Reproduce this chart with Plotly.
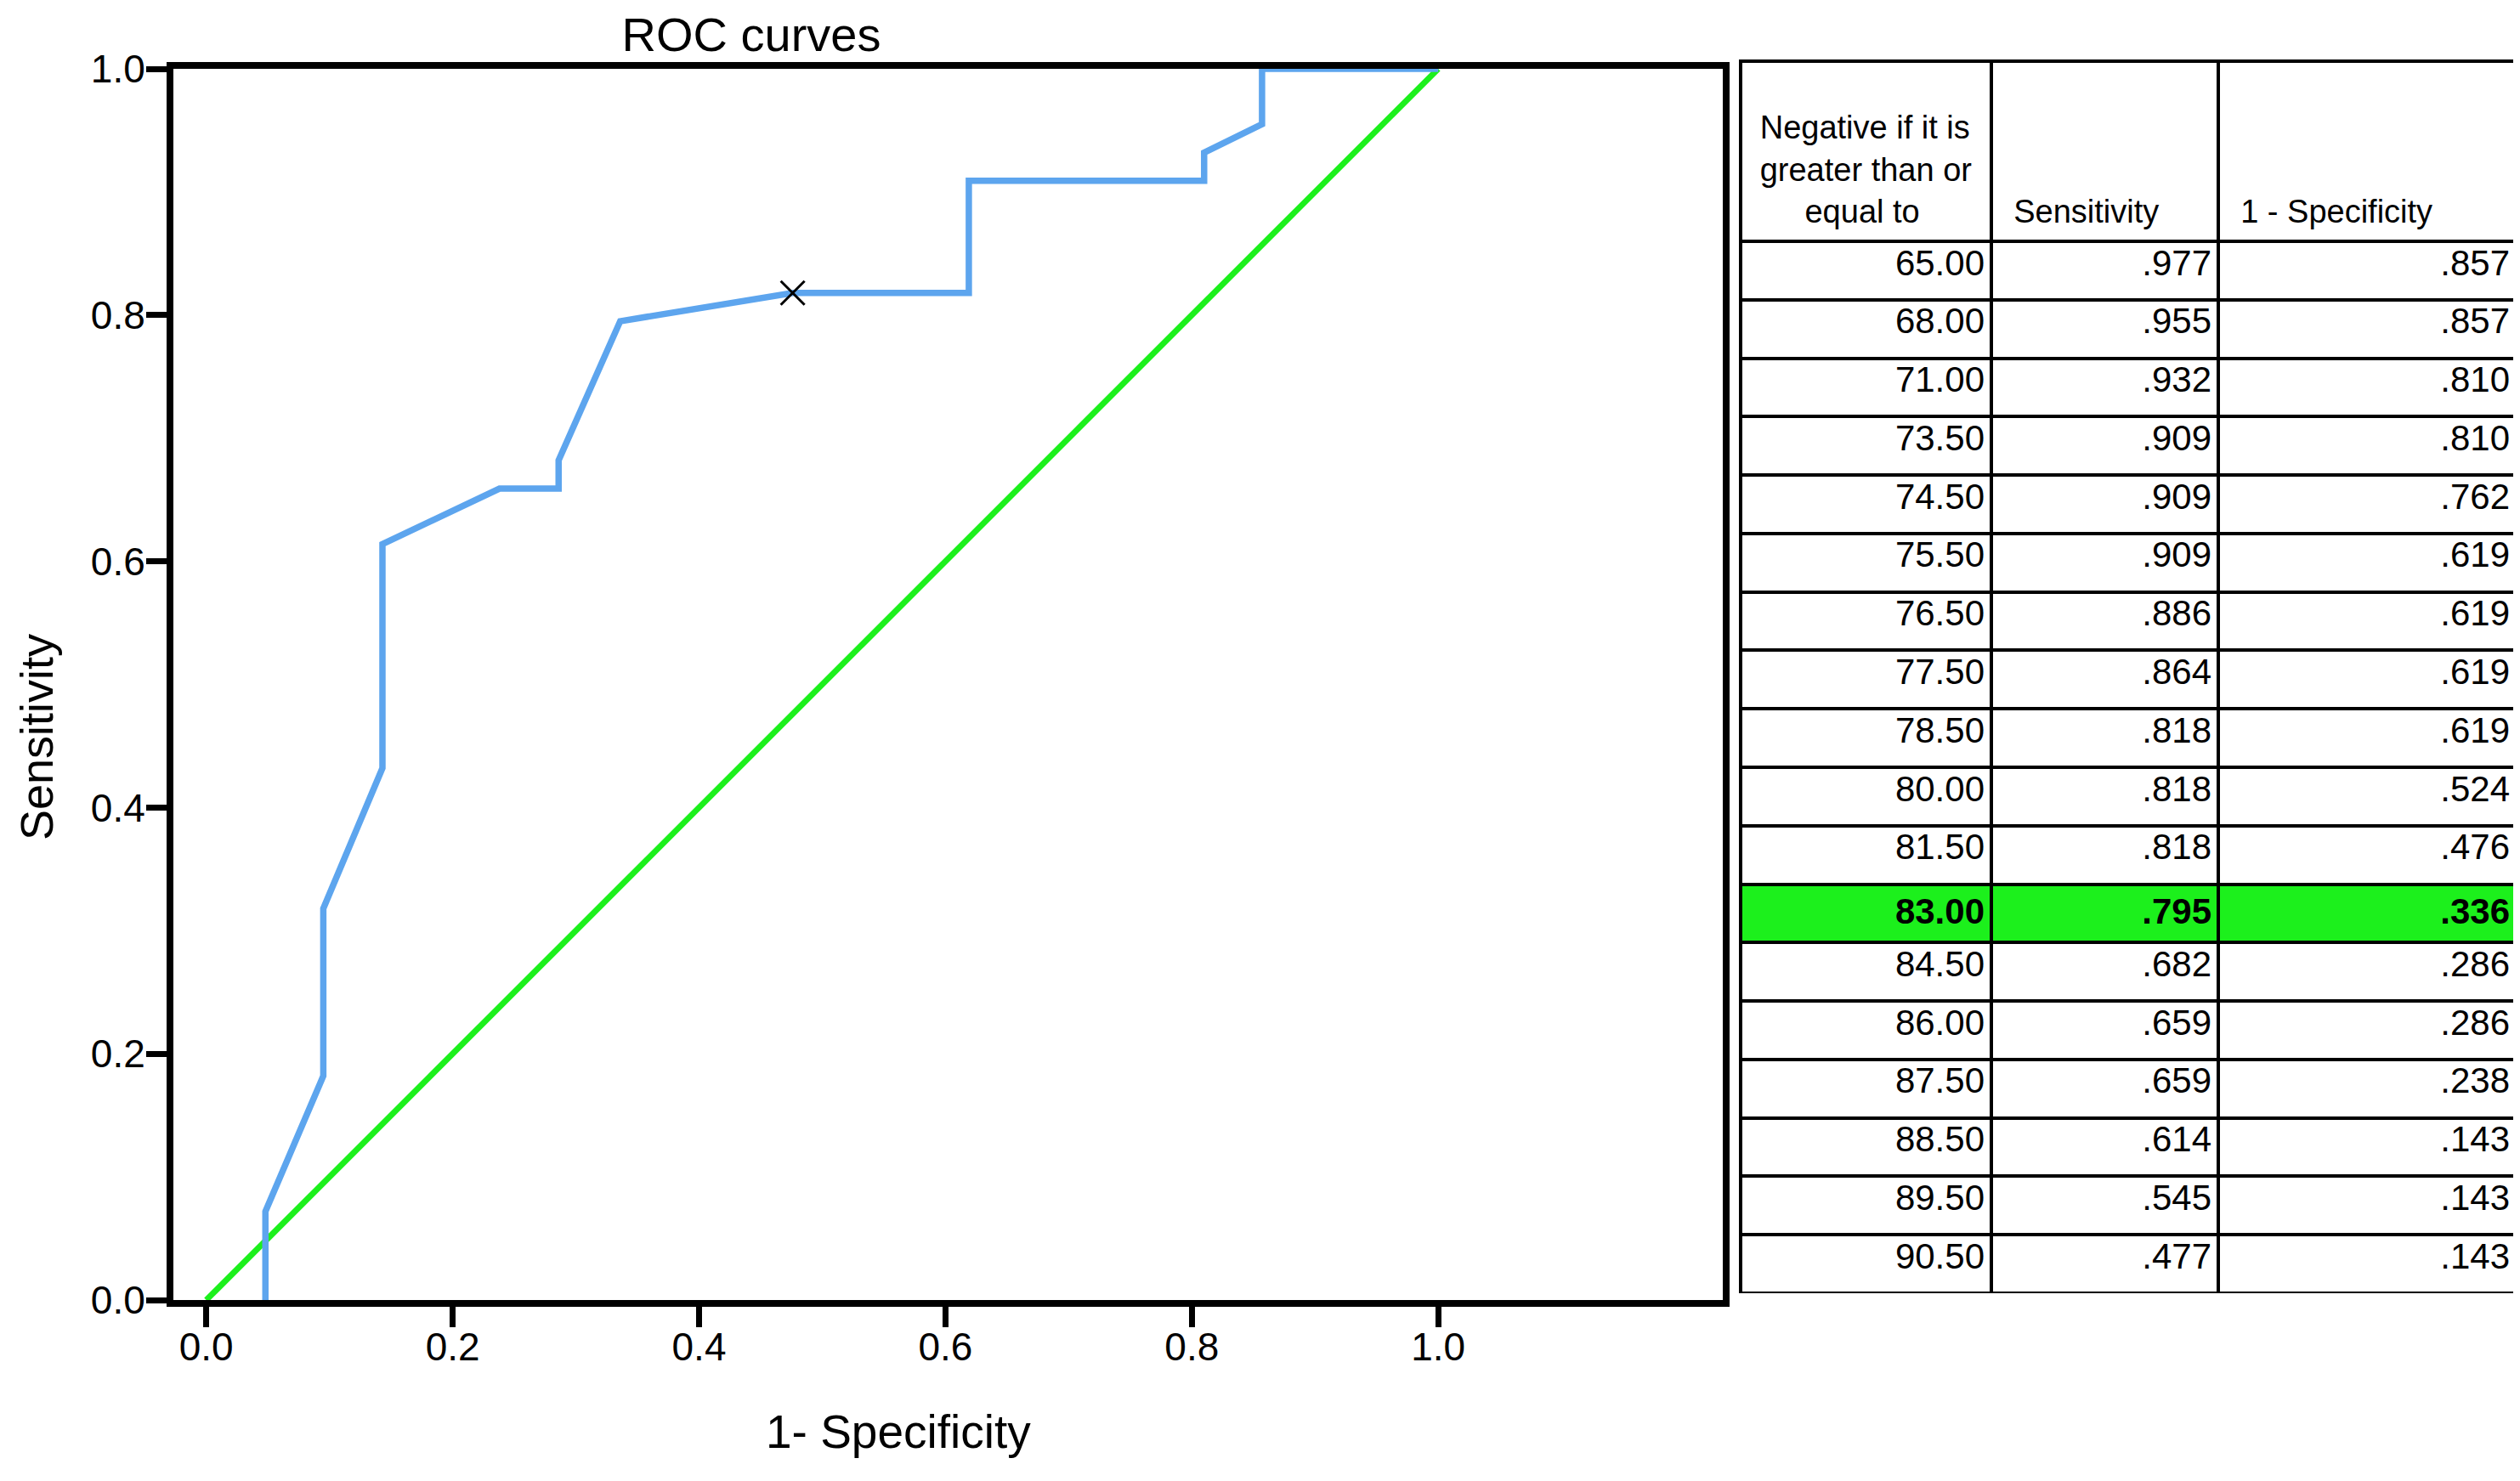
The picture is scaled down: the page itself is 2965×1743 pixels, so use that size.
import plotly.graph_objects as go

# ---------------- data ----------------
thresholds = [65.00, 68.00, 71.00, 73.50, 74.50, 75.50, 76.50, 77.50, 78.50,
              80.00, 81.50, 83.00, 84.50, 86.00, 87.50, 88.50, 89.50, 90.50]
table_sens = [.977, .955, .932, .909, .909, .909, .886, .864, .818,
              .818, .818, .795, .682, .659, .659, .614, .545, .477]
table_fpr = [.857, .857, .810, .810, .762, .619, .619, .619, .619,
             .524, .476, .336, .286, .286, .238, .143, .143, .143]
highlight_threshold = 83.00

# ROC curve vertices
roc_fpr = [0.048, 0.048, 0.095, 0.095, 0.143, 0.143, 0.238, 0.286, 0.286,
           0.336, 0.476, 0.619, 0.619, 0.810, 0.810, 0.857, 0.857, 1.0]
roc_sens = [0.0, 0.072, 0.182, 0.318, 0.432, 0.614, 0.659, 0.659, 0.682,
            0.795, 0.818, 0.818, 0.909, 0.909, 0.932, 0.955, 1.0, 1.0]

ref_x = [0.0, 1.0]
ref_y = [0.0, 1.0]

marker_x = [0.476]
marker_y = [0.818]

x_ticks = [0.0, 0.2, 0.4, 0.6, 0.8, 1.0]
y_ticks = [0.0, 0.2, 0.4, 0.6, 0.8, 1.0]

header_lines = ["Negative if it is", "greater than or", "equal to"]
header_sens = "Sensitivity"
header_fpr = "1 - Specificity"

# ---------------- layout helpers ----------------
OFF = 8                       # page body margin
FW, FH = 2965 - OFF, 1743 - OFF


def px(x):
    return (x - OFF) / FW


def py(y):
    return 1 - (y - OFF) / FH


FONT = "Liberation Sans, Arial, Helvetica, sans-serif"
BLUE = "#5DA5EE"
GREEN = "#1CF01C"
NB = "\u00a0"

fig = go.Figure()

fig.add_trace(go.Scatter(x=ref_x, y=ref_y, mode="lines",
                         line=dict(color=GREEN, width=7), showlegend=False,
                         hoverinfo="skip"))
fig.add_trace(go.Scatter(x=roc_fpr, y=roc_sens, mode="lines",
                         line=dict(color=BLUE, width=7.5), showlegend=False))
fig.add_trace(go.Scatter(x=marker_x, y=marker_y, mode="markers",
                         marker=dict(symbol="x-thin", size=28,
                                     line=dict(color="black", width=3)),
                         showlegend=False))


def fmt3(v):
    s = f"{v:.3f}"
    return s[1:] if s.startswith("0") else s


def bold_if(t, s):
    return f"<b>{s}</b>" if t == highlight_threshold else s


col_thr = [bold_if(t, f"{t:.2f}") for t in thresholds]
col_sens = [bold_if(t, fmt3(v)) for t, v in zip(thresholds, table_sens)]
col_fpr = [bold_if(t, fmt3(v)) for t, v in zip(thresholds, table_fpr)]
fills = [GREEN if t == highlight_threshold else "white" for t in thresholds]

lead = NB + "<br>"
hdr = [lead + header_lines[0] + "<br>" + header_lines[1] + "<br>" + NB * 5 + header_lines[2],
       lead * 3 + NB + "\u2009" + header_sens,
       lead * 3 + NB + "\u2009" + header_fpr]

TABLE_TOP, TABLE_BOTTOM = 72, 1522
HEADER_H = 212
ROW_H = (TABLE_BOTTOM - TABLE_TOP - HEADER_H) / len(thresholds)

fig.add_trace(go.Table(
    domain=dict(x=[px(2048), px(2961)], y=[py(TABLE_BOTTOM), py(TABLE_TOP)]),
    columnwidth=[295, 267, 351],
    header=dict(values=hdr, height=HEADER_H,
                align=["center", "left", "left"],
                line=dict(color="black", width=4),
                fill=dict(color="white"),
                font=dict(family=FONT, size=38, color="black")),
    cells=dict(values=[col_thr, col_sens, col_fpr], height=ROW_H,
               align="right",
               line=dict(color="black", width=4),
               fill=dict(color=[fills, fills, fills]),
               font=dict(family=FONT, size=42, color="black")),
))

axis_common = dict(showline=True, linecolor="black", linewidth=8, mirror=True,
                   showgrid=False, zeroline=False, ticks="outside",
                   ticklen=24, tickwidth=7, tickcolor="black",
                   tickfont=dict(family=FONT, size=46, color="black"),
                   tickformat=".1f", automargin=False)

fig.update_layout(
    width=FW, height=FH,
    margin=dict(l=0, r=0, t=0, b=0, pad=0, autoexpand=False),
    paper_bgcolor="white", plot_bgcolor="white",
    xaxis=dict(domain=[px(204), px(2027)], range=[-0.0267, 1.231],
               tickvals=x_ticks, ticklabelstandoff=-16, **axis_common),
    yaxis=dict(domain=[py(1530), py(81)], range=[0, 1],
               tickvals=y_ticks, ticklabelstandoff=-8, **axis_common),
    title=dict(text="ROC curves", x=876 / FW, y=1 - 32 / FH, xanchor="center",
               yanchor="middle", xref="container", yref="container",
               font=dict(family=FONT, size=56, color="black")),
    annotations=[
        dict(text="1- Specificity", x=px(1057), y=py(1685),
             xref="paper", yref="paper", showarrow=False,
             xanchor="center", yanchor="middle",
             font=dict(family=FONT, size=55, color="black")),
        dict(text="Sensitivity", x=35 / FW, y=py(868), textangle=-90,
             xref="paper", yref="paper", showarrow=False,
             xanchor="center", yanchor="middle",
             font=dict(family=FONT, size=54, color="black")),
    ],
)

fig.write_html("out.html")
